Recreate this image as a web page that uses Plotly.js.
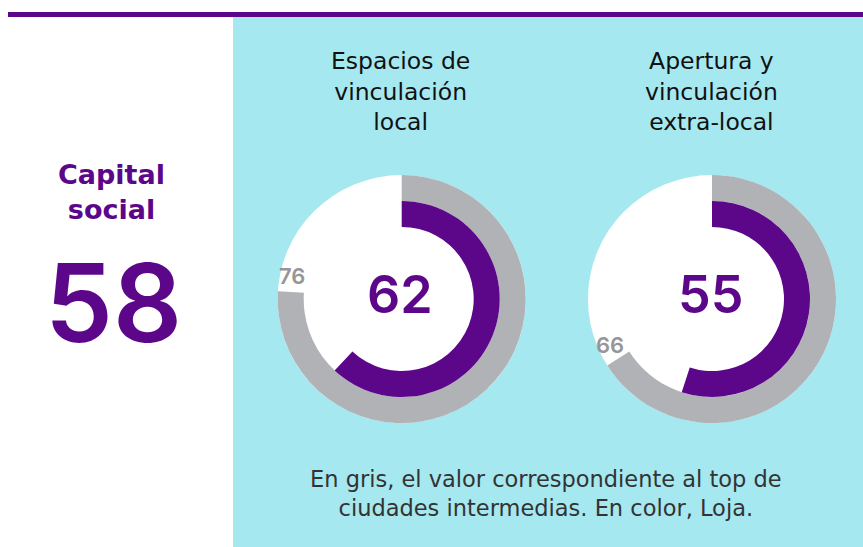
<!DOCTYPE html>
<html>
<head>
<meta charset="utf-8">
<script src="https://cdn.plot.ly/plotly-3.0.1.min.js"></script>
<style>html,body{margin:0;padding:0;background:#fff;}#chart{width:863px;height:547px;}</style>
</head>
<body>
<div id="chart"></div>
<script>
// ---- Data ----
const categories = ['Espacios de<br>vinculación<br>local', 'Apertura y<br>vinculación<br>extra-local'];
const lojaValues = [62, 55];   // En color, Loja
const topValues = [76, 66];    // En gris, top de ciudades intermedias
const indexTitle = 'Capital<br>social';
const indexValue = 58;
const noteText = 'En gris, el valor correspondiente al top de<br>ciudades intermedias. En color, Loja.';

// ---- Layout helpers ----
const W = 863, H = 547;
const px = x => x / W;
const py = y => 1 - y / H;
const PURPLE = 'rgb(92,6,138)';
const GREY = 'rgb(177,178,182)';
const CYAN = 'rgb(166,232,240)';
const FONT = 'DejaVu Sans, sans-serif';
const NUMFONT = 'Inter, sans-serif';

const centers = [{x: 401.7, y: 299}, {x: 712, y: 299}];
const R_OUT = 124, R_MID = 98, R_IN = 72;

function dom(c, r) {
  return {x: [px(c.x - r), px(c.x + r)], y: [py(c.y + r), py(c.y - r)]};
}

const traces = [];
const annotations = [];
centers.forEach((c, i) => {
  // white disc
  traces.push({type: 'pie', values: [1], labels: ['bg'], domain: dom(c, R_OUT), hole: 0,
    marker: {colors: ['#ffffff'], line: {width: 0}}, textinfo: 'none', hoverinfo: 'skip',
    showlegend: false, sort: false});
  // grey ring (top of intermediate cities)
  traces.push({type: 'pie', values: [topValues[i], 100 - topValues[i]], labels: ['top', 'rest'],
    domain: dom(c, R_OUT), hole: R_MID / R_OUT, direction: 'clockwise', rotation: 0, sort: false,
    marker: {colors: [GREY, 'rgba(0,0,0,0)'], line: {width: 0}}, textinfo: 'none', hoverinfo: 'skip',
    showlegend: false});
  // purple ring (Loja)
  traces.push({type: 'pie', values: [lojaValues[i], 100 - lojaValues[i]], labels: ['loja', 'rest'],
    domain: dom(c, R_MID), hole: R_IN / R_MID, direction: 'clockwise', rotation: 0, sort: false,
    marker: {colors: [PURPLE, 'rgba(0,0,0,0)'], line: {width: 0}}, textinfo: 'none', hoverinfo: 'skip',
    showlegend: false});

  // center value
  annotations.push({xref: 'paper', yref: 'paper', x: px(c.x - 2), y: py(294), text: String(lojaValues[i]),
    showarrow: false, xanchor: 'center', yanchor: 'middle',
    font: {family: NUMFONT, size: 52, color: PURPLE, weight: 600}});
  // grey value label near end of grey arc
  const ang = (topValues[i] / 100 * 360 + 8) * Math.PI / 180;
  const lr = 112;
  annotations.push({xref: 'paper', yref: 'paper', x: px(c.x + lr * Math.sin(ang)), y: py(c.y - lr * Math.cos(ang)),
    text: String(topValues[i]), showarrow: false, xanchor: 'center', yanchor: 'middle',
    font: {family: NUMFONT, size: 22, color: 'rgb(150,150,153)', weight: 600}});
  // title
  annotations.push({xref: 'paper', yref: 'paper', x: px(c.x - 1), y: py(92), text: categories[i],
    showarrow: false, xanchor: 'center', yanchor: 'middle',
    font: {family: FONT, size: 23.5, color: '#111111'}});
});

annotations.push({xref: 'paper', yref: 'paper', x: px(112), y: py(192), text: indexTitle,
  showarrow: false, xanchor: 'center', yanchor: 'middle',
  font: {family: FONT, size: 27, color: PURPLE, weight: 700}});
annotations.push({xref: 'paper', yref: 'paper', x: px(114), y: py(302), text: String(indexValue),
  showarrow: false, xanchor: 'center', yanchor: 'middle',
  font: {family: NUMFONT, size: 108, color: PURPLE, weight: 600}});
annotations.push({xref: 'paper', yref: 'paper', x: px(546), y: py(493), text: noteText,
  showarrow: false, xanchor: 'center', yanchor: 'middle', align: 'center',
  font: {family: FONT, size: 22.5, color: '#333333'}});

const shapes = [
  {type: 'rect', xref: 'paper', yref: 'paper', x0: px(233), x1: px(863), y0: py(547), y1: py(12),
    fillcolor: CYAN, line: {width: 0}, layer: 'below'},
  {type: 'rect', xref: 'paper', yref: 'paper', x0: px(8), x1: px(863), y0: py(17), y1: py(12),
    fillcolor: PURPLE, line: {width: 0}, layer: 'below'}
];

const layout = {
  width: W, height: H,
  margin: {l: 0, r: 0, t: 0, b: 0, pad: 0},
  paper_bgcolor: '#ffffff', plot_bgcolor: 'rgba(0,0,0,0)',
  showlegend: false,
  shapes: shapes,
  annotations: annotations
};

Plotly.newPlot('chart', traces, layout, {displayModeBar: false, staticPlot: true});
</script>
</body>
</html>
